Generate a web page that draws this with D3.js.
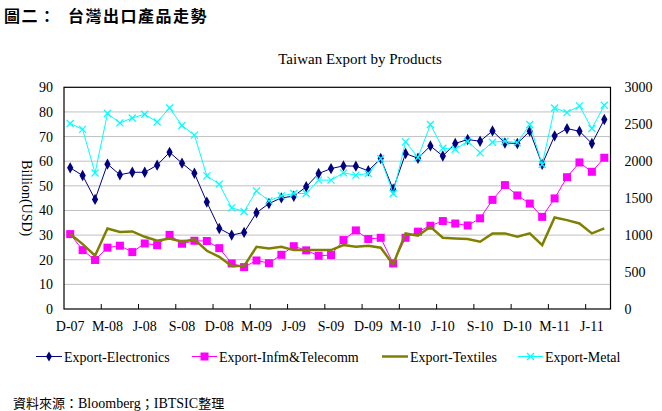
<!DOCTYPE html>
<html><head><meta charset="utf-8">
<script src="https://cdn.jsdelivr.net/npm/d3@7/dist/d3.min.js"></script>
<style>body{margin:0;background:#fff}svg{display:block}</style>
</head><body><svg id="c" width="662" height="411"></svg>
<script>
const months = ["Dec-07","Jan-08","Feb-08","Mar-08","Apr-08","May-08","Jun-08","Jul-08","Aug-08","Sep-08","Oct-08","Nov-08","Dec-08",
"Jan-09","Feb-09","Mar-09","Apr-09","May-09","Jun-09","Jul-09","Aug-09","Sep-09","Oct-09","Nov-09","Dec-09",
"Jan-10","Feb-10","Mar-10","Apr-10","May-10","Jun-10","Jul-10","Aug-10","Sep-10","Oct-10","Nov-10","Dec-10",
"Jan-11","Feb-11","Mar-11","Apr-11","May-11","Jun-11","Jul-11"];
const tickLabels = ["D-07","M-08","J-08","S-08","D-08","M-09","J-09","S-09","D-09","M-10","J-10","S-10","D-10","M-11","J-11"];
const electronics = [57.3,54.2,44.5,58.8,54.5,55.5,55.5,58.4,63.6,59.2,55.1,43.4,32.7,30.0,31.1,39.1,42.8,45.1,45.8,49.6,55.0,57.0,58.1,58.0,56.1,61.1,48.6,63.1,61.2,66.2,62.1,67.2,68.8,68.1,72.3,67.4,67.2,72.2,58.7,70.3,73.2,72.2,67.2,76.9];
const infmTelecomm = [30.4,23.9,19.9,24.9,25.7,23.1,26.6,25.9,30.1,26.5,27.7,27.6,24.7,18.5,17.0,19.7,18.6,22.0,25.5,23.8,21.6,21.9,28.0,31.9,28.4,28.9,18.5,28.9,31.4,33.8,35.7,34.7,33.9,36.8,44.3,50.3,46.1,42.8,37.4,44.9,53.5,59.5,55.7,61.4];
const textiles = [1014,878,721,1090,1041,1050,977,923,955,910,942,788,707,581,581,842,820,842,797,797,797,797,865,842,856,829,604,1023,991,1112,965,955,946,910,1023,1023,977,1023,865,1239,1203,1158,1023,1090];
const metal = [2510,2430,1840,2645,2518,2585,2635,2531,2720,2483,2352,1802,1689,1369,1320,1599,1463,1531,1563,1563,1744,1744,1842,1811,1834,2036,1563,2262,2050,2496,2175,2162,2270,2113,2257,2270,2252,2496,1956,2720,2658,2748,2442,2757];
const leftTicks = [0,10,20,30,40,50,60,70,80,90];
const rightTicks = [0,500,1000,1500,2000,2500,3000];

const svg = d3.select("#c");
const L = 64, R = 610.5, T = 87.3, B = 309;
const serif = "'Liberation Serif','DejaVu Serif',serif";
const cjk = "'Noto Sans CJK TC','Noto Sans CJK SC',sans-serif";

const x = d3.scaleBand().domain(months).range([L, R]).padding(0);
const yL = d3.scaleLinear().domain([0, 90]).range([B, T]);
const yR = d3.scaleLinear().domain([0, 3000]).range([B, T]);

// title
svg.append("text").attr("x", 4).attr("y", 22).attr("font-family", cjk).attr("font-weight", "bold")
  .attr("font-size", 16).attr("letter-spacing", 1.5).text("圖二：");
svg.append("text").attr("x", 68).attr("y", 22).attr("font-family", cjk).attr("font-weight", "bold")
  .attr("font-size", 16).attr("letter-spacing", 1.5).text("台灣出口產品走勢");
svg.append("text").attr("x", 360).attr("y", 64).attr("text-anchor", "middle").attr("font-family", serif)
  .attr("font-size", 15).text("Taiwan Export by Products");

// gridlines
svg.append("g").selectAll("line").data(leftTicks.filter(d => d > 0 && d < 90)).join("line")
  .attr("x1", L).attr("x2", R).attr("y1", d => yL(d)).attr("y2", d => yL(d))
  .attr("stroke", "#c0c0c0").attr("stroke-width", 1);

// left axis labels
const gl = svg.append("g").attr("transform", `translate(${L},0)`)
  .call(d3.axisLeft(yL).tickValues(leftTicks).tickSize(0).tickPadding(11).tickFormat(d3.format("d")));
gl.select(".domain").remove();
gl.selectAll("text").attr("font-family", serif).attr("font-size", 14).attr("fill", "#000");

const gr = svg.append("g").attr("transform", `translate(${R},0)`)
  .call(d3.axisRight(yR).tickValues(rightTicks).tickSize(0).tickPadding(14).tickFormat(d3.format("d")));
gr.select(".domain").remove();
gr.selectAll("text").attr("font-family", serif).attr("font-size", 14).attr("fill", "#000");

// bottom axis
const tickMonths = months.filter((m, i) => i % 3 === 0);
const gb = svg.append("g").attr("transform", `translate(0,${B})`)
  .call(d3.axisBottom(x).tickValues(tickMonths).tickSize(0).tickPadding(12)
    .tickFormat((d, i) => tickLabels[i]));
gb.select(".domain").remove();
gb.selectAll("text").attr("font-family", serif).attr("font-size", 14).attr("fill", "#000");
// inside tick marks at group boundaries
svg.append("g").selectAll("line").data(tickMonths.slice(1)).join("line")
  .attr("x1", d => x(d)).attr("x2", d => x(d)).attr("y1", B).attr("y2", B - 5)
  .attr("stroke", "#000").attr("stroke-width", 1);

// border
svg.append("rect").attr("x", L).attr("y", T).attr("width", R - L).attr("height", B - T)
  .attr("fill", "none").attr("stroke", "#000").attr("stroke-width", 1.2);

// y label
svg.append("text").attr("transform", `translate(22,${(T + B) / 2}) rotate(90)`).attr("text-anchor", "middle")
  .attr("font-family", serif).attr("font-size", 14).text("Billion(USD)");

const cx = m => x(m) + x.bandwidth() / 2;
function line(data, y) {
  return d3.line().x((d, i) => cx(months[i])).y(d => y(d))(data);
}

// series
svg.append("path").attr("d", line(infmTelecomm, yL)).attr("fill", "none").attr("stroke", "#ff00ff").attr("stroke-width", 1);
svg.append("g").selectAll("rect").data(infmTelecomm).join("rect")
  .attr("x", (d, i) => cx(months[i]) - 4).attr("y", d => yL(d) - 4).attr("width", 8).attr("height", 8).attr("fill", "#ff00ff");

svg.append("path").attr("d", line(electronics, yL)).attr("fill", "none").attr("stroke", "#000080").attr("stroke-width", 1);
svg.append("g").selectAll("path").data(electronics).join("path")
  .attr("d", d3.symbol(d3.symbolDiamond, 34))
  .attr("transform", (d, i) => `translate(${cx(months[i])},${yL(d)}) scale(1.0,1.05)`).attr("fill", "#000080");

svg.append("path").attr("d", line(textiles, yR)).attr("fill", "none").attr("stroke", "#808000").attr("stroke-width", 2.5);

svg.append("path").attr("d", line(metal, yR)).attr("fill", "none").attr("stroke", "#00ffff").attr("stroke-width", 1);
svg.append("g").selectAll("path").data(metal).join("path")
  .attr("d", (d, i) => { const px = cx(months[i]), py = yR(d), s = 3.5;
    return `M${px - s},${py - s}L${px + s},${py + s}M${px - s},${py + s}L${px + s},${py - s}`; })
  .attr("stroke", "#00ffff").attr("stroke-width", 1.2).attr("fill", "none");

// legend
const ly = 356.5;
const lg = svg.append("g");
const legendItems = [
  {name: "Export-Electronics", x1: 36, x2: 62, color: "#000080", w: 1, marker: "diamond"},
  {name: "Export-Infm&Telecomm", x1: 192, x2: 217, color: "#ff00ff", w: 1, marker: "square"},
  {name: "Export-Textiles", x1: 382, x2: 408, color: "#808000", w: 2.5, marker: null},
  {name: "Export-Metal", x1: 518, x2: 543, color: "#00ffff", w: 1, marker: "x"}
];
legendItems.forEach(it => {
  lg.append("line").attr("x1", it.x1).attr("x2", it.x2).attr("y1", ly).attr("y2", ly).attr("stroke", it.color).attr("stroke-width", it.w);
  const mx = (it.x1 + it.x2) / 2;
  if (it.marker === "diamond") lg.append("path").attr("d", d3.symbol(d3.symbolDiamond, 30)).attr("transform", `translate(${mx},${ly})`).attr("fill", it.color);
  if (it.marker === "square") lg.append("rect").attr("x", mx - 4).attr("y", ly - 4).attr("width", 8).attr("height", 8).attr("fill", it.color);
  if (it.marker === "x") lg.append("path").attr("d", `M${mx - 3.5},${ly - 3.5}L${mx + 3.5},${ly + 3.5}M${mx - 3.5},${ly + 3.5}L${mx + 3.5},${ly - 3.5}`).attr("stroke", it.color).attr("stroke-width", 1.2);
  lg.append("text").attr("x", it.x2 + 2).attr("y", ly + 5).attr("font-family", serif).attr("font-size", 14).text(it.name);
});

// source
const src = svg.append("text").attr("x", 13).attr("y", 408).attr("font-size", 14);
src.append("tspan").attr("font-family", cjk).attr("font-size", 13).text("資料來源：");
src.append("tspan").attr("font-family", serif).text("Bloomberg");
src.append("tspan").attr("font-family", cjk).attr("font-size", 13).text("；");
src.append("tspan").attr("font-family", serif).text("IBTSIC");
src.append("tspan").attr("font-family", cjk).attr("font-size", 13).text("整理");
</script>
</body></html>
